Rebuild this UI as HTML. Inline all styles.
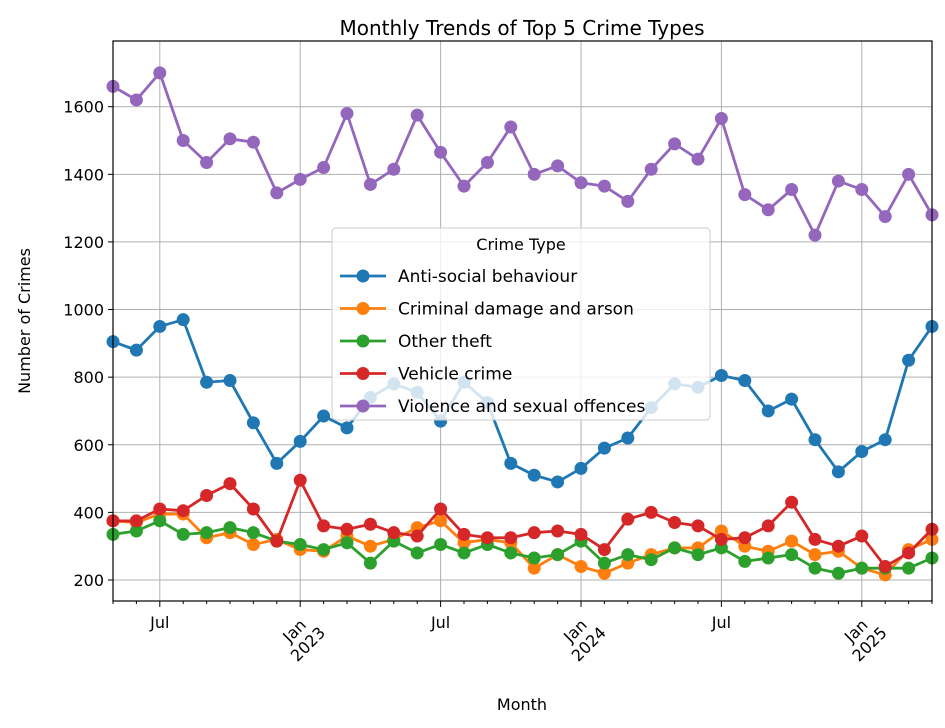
<!DOCTYPE html>
<html><head><meta charset="utf-8"><style>
body{margin:0;background:#fff;}
svg{display:block;font-family:"DejaVu Sans","Liberation Sans",sans-serif;}
</style></head><body>
<svg id="chart" width="945" height="728">
<text x="522" y="35" text-anchor="middle" font-size="20" fill="#000">Monthly Trends of Top 5 Crime Types</text>
<g id="grid"></g>
<g id="series"></g>
<rect x="113" y="41" width="819" height="560" fill="none" stroke="#000" stroke-width="1.2"/>
<g id="axes"></g>
<text x="522" y="710" text-anchor="middle" font-size="16">Month</text>
<text transform="translate(30,321) rotate(-90)" text-anchor="middle" font-size="16">Number of Crimes</text>
<g id="legend">
<rect x="332" y="228" width="378" height="192" rx="4" fill="#fff" fill-opacity="0.8" stroke="#ccc"/>
<text x="521" y="250" text-anchor="middle" font-size="16">Crime Type</text>
</g>
</svg>
<script>
const categories = ["Anti-social behaviour","Criminal damage and arson","Other theft","Vehicle crime","Violence and sexual offences"];
const colors = ["#1f77b4","#ff7f0e","#2ca02c","#d62728","#9467bd"];
const startYear = 2022, startMonth = 5;
const asb = [905,880,950,970,785,790,665,545,610,685,650,740,780,755,670,785,725,545,510,490,530,590,620,710,780,770,805,790,700,735,615,520,580,615,850,950];
const damage = [375,370,395,395,325,340,305,320,290,285,330,300,320,355,375,310,320,310,235,275,240,220,250,275,295,295,345,300,285,315,275,285,235,215,290,320];
const theft = [335,345,375,335,340,355,340,315,305,290,310,250,315,280,305,280,305,280,265,275,315,250,275,260,295,275,295,255,265,275,235,220,235,235,235,265];
const vehicle = [375,375,410,405,450,485,410,315,495,360,350,365,340,330,410,335,325,325,340,345,335,290,380,400,370,360,320,325,360,430,320,300,330,240,280,350];
const violence = [1660,1620,1700,1500,1435,1505,1495,1345,1385,1420,1580,1370,1415,1575,1465,1365,1435,1540,1400,1425,1375,1365,1320,1415,1490,1445,1565,1340,1295,1355,1220,1380,1355,1275,1400,1280];
const yTicks = [200,400,600,800,1000,1200,1400,1600];
const seriesData = [asb,damage,theft,vehicle,violence];

const NS="http://www.w3.org/2000/svg";
const X0=113, X1=932, Y0=601, Y1=41;
const n = asb.length;
function xs(i){return X0 + i*(X1-X0)/(n-1);}
function ys(v){return 580 - (v-200)*(473.3/1400);}
function mk(t,a,p){const e=document.createElementNS(NS,t);for(const k in a)e.setAttribute(k,a[k]);p.appendChild(e);return e;}
const grid=document.getElementById('grid'), axes=document.getElementById('axes'), ser=document.getElementById('series');
yTicks.forEach(v=>{
  const l=mk('line',{x1:X0,x2:X1,y1:ys(v),y2:ys(v),stroke:'#b0b0b0','stroke-width':1},grid);
  
  
  mk('line',{x1:X0-5,x2:X0,y1:ys(v),y2:ys(v),stroke:'#000'},axes);
  const t=mk('text',{x:X0-9,y:ys(v)+6,'text-anchor':'end','font-size':16},axes);
  t.textContent=v;
  
  
});
for(let i=0;i<n;i++){
  const m=(startMonth-1+i)%12, yr=startYear+Math.floor((startMonth-1+i)/12);
  const x=xs(i);
  const major=(m===0||m===6);
  mk('line',{x1:x,x2:x,y1:Y0,y2:Y0+(major?6:3),stroke:'#000'},axes);
  if(major){
    const g=mk('line',{x1:x,x2:x,y1:Y1,y2:Y0,stroke:'#b0b0b0','stroke-width':1},grid);
    
    
    if(m===6){
      const t=mk('text',{x:x,y:628,'text-anchor':'middle','font-size':16},axes);
      t.textContent='Jul';
      
      
    } else {
      const t=mk('text',{transform:`translate(${x-3},${616}) rotate(-45)`,'text-anchor':'end','font-size':16},axes);
      const a=mk('tspan',{x:0,dy:14},t); a.textContent='Jan';
      const b=mk('tspan',{x:8,dy:19},t); b.textContent=yr;
      
      
    }
  }
}
seriesData.forEach((d,s)=>{
  const g=mk('g',{},ser);
  
  
  const pl=mk('polyline',{points:d.map((v,i)=>xs(i)+','+ys(v)).join(' '),fill:'none',stroke:colors[s],'stroke-width':2.8,'stroke-linejoin':'round'},g);
  
  
  d.forEach((v,i)=>{
    const c=mk('circle',{cx:xs(i),cy:ys(v),r:6.5,fill:colors[s]},g);
    
    
  });
});
const lg=document.getElementById('legend');
categories.forEach((c,i)=>{
  const y=276+i*32.5;
  const e=mk('g',{},lg);
  
  
  mk('line',{x1:340,x2:386,y1:y,y2:y,stroke:colors[i],'stroke-width':2.8},e);
  mk('circle',{cx:363,cy:y,r:6.5,fill:colors[i]},e);
  const t=mk('text',{x:398,y:y+6,'font-size':17},e);
  t.textContent=c;
});
</script>
</body></html>
